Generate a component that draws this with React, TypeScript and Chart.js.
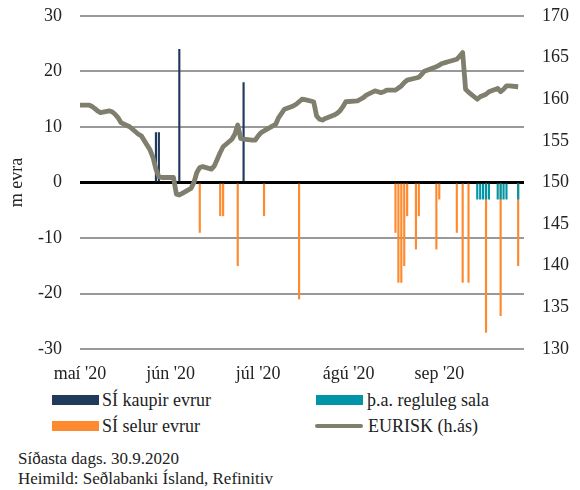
import React, { useEffect, useRef } from "react";
import { Chart, registerables } from "chart.js";

Chart.register(...registerables);

const FONT = "'Liberation Serif', 'Times New Roman', serif";
const TEXT = "#222222";
Chart.defaults.font.family = FONT;

// x axis (calendar days)
const axisStart = "2020-05-01";
const axisEnd = "2020-09-30";
const monthStarts = ["2020-05-01", "2020-06-01", "2020-07-01", "2020-08-01", "2020-09-01"];
const monthLabels = ["maí '20", "jún '20", "júl '20", "ágú '20", "sep '20"];

// EURISK (right axis)
const euriskDates = [
  "2020-05-01", "2020-05-04", "2020-05-05", "2020-05-06", "2020-05-07", "2020-05-08",
  "2020-05-11", "2020-05-12", "2020-05-13", "2020-05-14", "2020-05-15",
  "2020-05-18", "2020-05-19", "2020-05-20", "2020-05-21", "2020-05-22",
  "2020-05-25", "2020-05-26", "2020-05-27", "2020-05-28", "2020-05-29",
  "2020-06-02", "2020-06-03", "2020-06-04", "2020-06-05",
  "2020-06-08", "2020-06-09", "2020-06-10", "2020-06-11", "2020-06-12",
  "2020-06-15", "2020-06-16", "2020-06-18", "2020-06-19",
  "2020-06-22", "2020-06-23", "2020-06-24", "2020-06-25", "2020-06-26",
  "2020-06-29", "2020-06-30", "2020-07-01", "2020-07-02", "2020-07-03",
  "2020-07-06", "2020-07-07", "2020-07-08", "2020-07-09", "2020-07-10",
  "2020-07-13", "2020-07-14", "2020-07-15", "2020-07-16", "2020-07-17",
  "2020-07-20", "2020-07-21", "2020-07-22", "2020-07-23", "2020-07-24",
  "2020-07-27", "2020-07-28", "2020-07-29", "2020-07-30", "2020-07-31",
  "2020-08-04", "2020-08-05", "2020-08-06", "2020-08-07",
  "2020-08-10", "2020-08-11", "2020-08-12", "2020-08-13", "2020-08-14",
  "2020-08-17", "2020-08-18", "2020-08-19", "2020-08-20", "2020-08-21",
  "2020-08-24", "2020-08-25", "2020-08-26", "2020-08-27", "2020-08-28",
  "2020-08-31", "2020-09-01", "2020-09-02", "2020-09-03", "2020-09-04",
  "2020-09-07", "2020-09-08", "2020-09-09", "2020-09-10", "2020-09-11",
  "2020-09-14", "2020-09-15", "2020-09-16", "2020-09-17", "2020-09-18",
  "2020-09-21", "2020-09-22", "2020-09-23", "2020-09-24", "2020-09-25",
  "2020-09-28",
];
const euriskValues = [
  159.3, 159.3, 159.15, 158.9, 158.6, 158.4,
  158.6, 158.5, 158.2, 157.8, 157.2,
  156.7, 156.4, 156.1, 155.8, 155.6,
  153.9, 153.0, 151.6, 150.7, 150.6,
  150.6, 148.6, 148.5, 148.7,
  149.3, 150.0, 151.2, 151.8, 151.9,
  151.6, 152.0, 153.6, 154.3,
  155.2, 155.8, 156.9, 155.3, 155.2,
  155.1, 155.1, 155.6, 156.0, 156.2,
  156.8, 157.0, 157.8, 158.3, 158.8,
  159.2, 159.4, 159.7, 160.0, 159.95,
  159.7, 158.0, 157.6, 157.5, 157.7,
  158.1, 158.3, 158.6, 159.1, 159.7,
  159.8, 160.0, 160.2, 160.5,
  161.0, 160.9, 160.8, 160.9, 161.1,
  161.1, 161.35, 161.6, 162.0, 162.3,
  162.55, 162.65, 163.0, 163.4, 163.5,
  163.9, 164.1, 164.3, 164.4, 164.5,
  164.8, 165.2, 165.6, 161.2, 160.85,
  160.0, 160.3, 160.45, 160.6, 160.9,
  161.3, 160.9, 161.2, 161.6, 161.6,
  161.5,
];

// SÍ kaupir evrur (m evra)
const buyDates = ["2020-05-27", "2020-05-28", "2020-06-04", "2020-06-26"];
const buyValues = [9, 9, 24, 18];

// SÍ selur evrur (m evra)
const sellDates = [
  "2020-06-11", "2020-06-18", "2020-06-19", "2020-06-24", "2020-07-03", "2020-07-15",
  "2020-08-17", "2020-08-18", "2020-08-19", "2020-08-20", "2020-08-21",
  "2020-08-24", "2020-08-25", "2020-08-31", "2020-09-01",
  "2020-09-07", "2020-09-09", "2020-09-11", "2020-09-17", "2020-09-22", "2020-09-28",
];
const sellValues = [
  -9, -6, -6, -15, -6, -21,
  -9, -18, -18, -15, -6,
  -12, -6, -12, -3,
  -9, -18, -18, -27, -24, -15,
];

// þ.a. regluleg sala (m evra)
const regularDates = [
  "2020-09-14", "2020-09-15", "2020-09-16", "2020-09-17", "2020-09-18",
  "2020-09-21", "2020-09-22", "2020-09-23", "2020-09-24", "2020-09-28",
];
const regularValues = [-3, -3, -3, -3, -3, -3, -3, -3, -3, -3];

const COLOR_BUY = "#1f3a5c";
const COLOR_SELL = "#fd8a2e";
const COLOR_REG = "#0096a8";
const COLOR_LINE = "#807f6e";

const DAY = 86400000;
const dayIndex = (s: string) =>
  (Date.parse(s + "T00:00:00Z") - Date.parse(axisStart + "T00:00:00Z")) / DAY;
const pts = (dates: string[], vals: number[]) =>
  dates.map((d, i) => ({ x: dayIndex(d), y: vals[i] }));

export default function App() {
  const ref = useRef<HTMLCanvasElement | null>(null);

  useEffect(() => {
    if (!ref.current) return;
    const tickFont = { family: FONT, size: 18 };
    const chart = new Chart(ref.current, {
      type: "bar",
      data: {
        datasets: [
          {
            type: "line",
            label: "EURISK (h.ás)",
            data: pts(euriskDates, euriskValues),
            yAxisID: "y1",
            borderColor: COLOR_LINE,
            backgroundColor: COLOR_LINE,
            borderWidth: 4.8,
            pointRadius: 0,
            tension: 0,
            borderJoinStyle: "round",
            order: 0,
          } as any,
          {
            type: "bar",
            label: "þ.a. regluleg sala",
            data: pts(regularDates, regularValues),
            yAxisID: "y",
            backgroundColor: COLOR_REG,
            barThickness: 1.5,
            grouped: false,
            order: 1,
          } as any,
          {
            type: "bar",
            label: "SÍ selur evrur",
            data: pts(sellDates, sellValues),
            yAxisID: "y",
            backgroundColor: COLOR_SELL,
            barThickness: 1.5,
            grouped: false,
            order: 2,
          } as any,
          {
            type: "bar",
            label: "SÍ kaupir evrur",
            data: pts(buyDates, buyValues),
            yAxisID: "y",
            backgroundColor: COLOR_BUY,
            barThickness: 1.5,
            grouped: false,
            order: 3,
          } as any,
        ],
      },
      options: {
        responsive: false,
        animation: false,
        layout: { padding: { top: 16, left: 0, right: 0, bottom: 0 } },
        plugins: { legend: { display: false }, tooltip: { enabled: false } },
        scales: {
          x: {
            type: "linear",
            offset: false,
            min: dayIndex(axisStart),
            max: dayIndex(axisEnd),
            grid: { display: false, drawTicks: false, offset: false },
            border: { display: false },
            afterBuildTicks: (s: any) => {
              s.ticks = monthStarts.map((d) => ({ value: dayIndex(d) }));
            },
            afterFit: (s: any) => {
              s.height = 36;
              s.paddingLeft = 0;
              s.paddingRight = 0;
            },
            ticks: {
              autoSkip: false,
              maxRotation: 0,
              padding: 14,
              color: TEXT,
              font: tickFont,
              callback: (v: any) => {
                const i = monthStarts.findIndex((d) => dayIndex(d) === v);
                return i >= 0 ? monthLabels[i] : "";
              },
            },
          },
          y: {
            type: "linear",
            position: "left",
            min: -30,
            max: 30,
            afterFit: (s: any) => {
              s.width = 80;
              s.paddingTop = 0;
              s.paddingBottom = 0;
            },
            ticks: { stepSize: 10, padding: 18, color: TEXT, font: tickFont },
            grid: {
              drawTicks: false,
              color: (c: any) => (c.tick && c.tick.value === 0 ? "#000000" : "#999999"),
              lineWidth: (c: any) => (c.tick && c.tick.value === 0 ? 3 : 2),
            },
            border: { display: false },
            title: {
              display: true,
              text: "m evra",
              color: TEXT,
              font: { family: FONT, size: 18 },
              padding: { top: 6, bottom: 0 },
            },
          },
          y1: {
            type: "linear",
            position: "right",
            min: 130,
            max: 170,
            afterFit: (s: any) => {
              s.width = 56;
              s.paddingTop = 0;
              s.paddingBottom = 0;
            },
            ticks: { stepSize: 5, padding: 18, color: TEXT, font: tickFont },
            grid: { display: false, drawTicks: false },
            border: { display: false },
          },
        },
      } as any,
    });
    return () => chart.destroy();
  }, []);

  const legendText: React.CSSProperties = {
    position: "absolute",
    fontSize: 18,
    lineHeight: "20px",
    whiteSpace: "nowrap",
  };
  const note: React.CSSProperties = {
    position: "absolute",
    left: 18,
    fontSize: 17,
    lineHeight: "20px",
    whiteSpace: "nowrap",
  };

  return (
    <div
      style={{
        position: "absolute",
        left: 0,
        top: 0,
        width: 580,
        height: 490,
        fontFamily: FONT,
        color: TEXT,
        background: "#ffffff",
      }}
    >
      <canvas
        ref={ref}
        width={580}
        height={385}
        style={{ position: "absolute", left: 0, top: 0, width: 580, height: 385 }}
      />
      <div style={{ position: "absolute", left: 52, top: 395, width: 47, height: 10, background: COLOR_BUY }} />
      <div style={{ ...legendText, left: 102, top: 390 }}>SÍ kaupir evrur</div>
      <div style={{ position: "absolute", left: 316, top: 395, width: 47, height: 10, background: COLOR_REG }} />
      <div style={{ ...legendText, left: 367, top: 390 }}>þ.a. regluleg sala</div>
      <div style={{ position: "absolute", left: 52, top: 421, width: 47, height: 10, background: COLOR_SELL }} />
      <div style={{ ...legendText, left: 102, top: 416 }}>SÍ selur evrur</div>
      <div
        style={{
          position: "absolute",
          left: 315,
          top: 423.5,
          width: 48,
          height: 4.5,
          borderRadius: 2,
          background: COLOR_LINE,
        }}
      />
      <div style={{ ...legendText, left: 368, top: 416 }}>EURISK (h.ás)</div>
      <div style={{ ...note, top: 449 }}>Síðasta dags. 30.9.2020</div>
      <div style={{ ...note, top: 469 }}>Heimild: Seðlabanki Ísland, Refinitiv</div>
    </div>
  );
}
